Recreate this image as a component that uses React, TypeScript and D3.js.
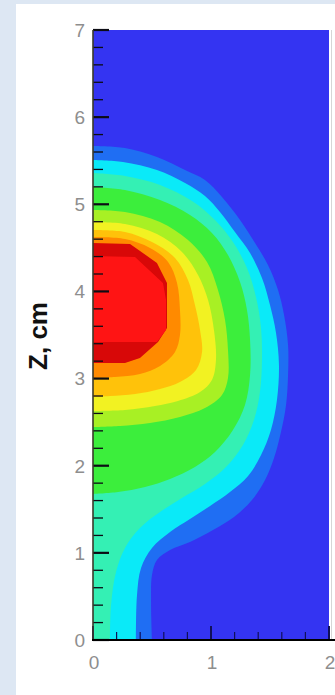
import React from 'react';
import * as d3 from 'd3';

type Pt = [number, number];

// axis ticks
const xTickValues = [0, 1, 2];
const yTickValues = [0, 1, 2, 3, 4, 5, 6, 7];
const xLabel = '';
const yAxisTitle = 'Z, cm';

// contour band outer edges, [r, z] in cm, outer -> inner
const midBlueEdge: Pt[] = [
  [0, 5.669], [0.271, 5.646], [0.542, 5.543], [0.78, 5.394], [0.949, 5.279], [1.093, 5.084],
  [1.246, 4.82], [1.373, 4.556], [1.483, 4.304], [1.568, 4.017], [1.619, 3.73], [1.653, 3.385],
  [1.653, 3.041], [1.636, 2.697], [1.593, 2.387], [1.534, 2.089], [1.458, 1.836], [1.347, 1.607],
  [1.195, 1.412], [1.017, 1.262], [0.822, 1.125], [0.653, 1.033], [0.542, 0.918], [0.5, 0.746],
  [0.492, 0.459], [0.5, 0],
];
const cyanEdge: Pt[] = [
  [0, 5.508], [0.254, 5.486], [0.542, 5.394], [0.78, 5.245], [0.949, 5.095], [1.076, 4.912],
  [1.203, 4.682], [1.331, 4.441], [1.432, 4.154], [1.5, 3.844], [1.551, 3.523], [1.576, 3.156],
  [1.559, 2.754], [1.508, 2.41], [1.424, 2.123], [1.314, 1.882], [1.161, 1.698], [0.992, 1.538],
  [0.822, 1.389], [0.653, 1.239], [0.5, 1.056], [0.407, 0.826], [0.373, 0.516], [0.364, 0],
];
const aquaEdge: Pt[] = [
  [0, 5.359], [0.271, 5.325], [0.568, 5.222], [0.839, 5.038], [1.034, 4.82], [1.186, 4.567],
  [1.305, 4.269], [1.381, 3.936], [1.424, 3.581], [1.432, 3.213], [1.415, 2.846], [1.364, 2.525],
  [1.271, 2.238], [1.127, 1.985], [0.949, 1.79], [0.754, 1.63], [0.568, 1.469], [0.398, 1.285],
  [0.271, 1.056], [0.195, 0.78], [0.153, 0.402], [0.144, 0],
];
const greenEdge: Pt[] = [
  [0, 5.199], [0.271, 5.164], [0.568, 5.049], [0.822, 4.877], [1.008, 4.671], [1.144, 4.418],
  [1.246, 4.108], [1.305, 3.787], [1.331, 3.443], [1.331, 3.041], [1.288, 2.697], [1.186, 2.41],
  [1.034, 2.157], [0.864, 1.985], [0.653, 1.848], [0.441, 1.756], [0.212, 1.698], [0, 1.676],
];
const yellowGreenEdge: Pt[] = [
  [0, 4.935], [0.271, 4.912], [0.568, 4.797], [0.805, 4.59], [0.966, 4.338], [1.059, 4.017],
  [1.119, 3.672], [1.144, 3.328], [1.144, 3.007], [1.093, 2.812], [0.949, 2.662], [0.737, 2.559],
  [0.483, 2.49], [0.229, 2.456], [0, 2.444],
];
const yellowEdge: Pt[] = [
  [0, 4.797], [0.271, 4.774], [0.542, 4.659], [0.754, 4.453], [0.89, 4.189], [0.975, 3.902],
  [1.025, 3.558], [1.042, 3.213], [1.008, 2.984], [0.907, 2.846], [0.72, 2.743], [0.525, 2.685],
  [0.271, 2.639], [0, 2.628],
];
const goldEdge: Pt[] = [
  [0, 4.705], [0.271, 4.682], [0.5, 4.567], [0.695, 4.384], [0.805, 4.131], [0.864, 3.844],
  [0.907, 3.558], [0.924, 3.305], [0.873, 3.099], [0.737, 2.961], [0.568, 2.881], [0.356, 2.823],
  [0.144, 2.8], [0, 2.789],
];
const orangeEdge: Pt[] = [
  [0, 4.625], [0.271, 4.602], [0.483, 4.499], [0.636, 4.338], [0.712, 4.097], [0.737, 3.787],
  [0.737, 3.5], [0.695, 3.305], [0.568, 3.144], [0.398, 3.053], [0.186, 3.018], [0, 3.007],
];
const darkRedEdge: Pt[] = [
  [0, 4.556], [0.314, 4.545], [0.542, 4.327], [0.627, 4.097], [0.627, 3.581], [0.551, 3.42],
  [0.398, 3.236], [0.271, 3.179], [0, 3.179],
];
const redEdge: Pt[] = [
  [0, 4.407], [0.356, 4.395], [0.593, 4.097], [0.619, 3.902], [0.619, 3.558], [0.542, 3.42],
  [0, 3.42],
];

const bandEdges: Pt[][] = [
  midBlueEdge, cyanEdge, aquaEdge, greenEdge, yellowGreenEdge, yellowEdge,
  goldEdge, orangeEdge, darkRedEdge, redEdge,
];
const backgroundColor = '#3434f2';
const bandColors = [
  '#1f6ef3', '#0aeaf8', '#34f0b4', '#3cee3c', '#a8f024', '#f2f222',
  '#ffc20a', '#ff8a00', '#d80808', '#ff1414',
];
const bandSmooth = [true, true, true, true, true, true, true, true, false, false];

export default function App() {
  const W = 335;
  const H = 695;
  const x = d3.scaleLinear().domain([0, 2]).range([93, 329]);
  const y = d3.scaleLinear().domain([0, 7]).range([640, 30]);

  const bandPath = (pts: Pt[], smooth: boolean) => {
    const line = d3
      .line<Pt>()
      .x((d) => x(d[0]))
      .y((d) => y(d[1]))
      .curve(smooth ? d3.curveCatmullRom.alpha(0.5) : d3.curveLinear);
    const first = pts[0];
    const last = pts[pts.length - 1];
    return (
      line(pts) +
      `L${x(last[0])},${y(-0.5)}L${x(-0.5)},${y(-0.5)}L${x(-0.5)},${y(first[1])}Z`
    );
  };

  const yMinor = d3.range(0, 7.0001, 0.2);
  const xMinor = d3.range(0, 2.0001, 0.2);
  const isMajor = (v: number) => Math.abs(v - Math.round(v)) < 1e-6;

  const [x0, x1] = x.range();
  const [y0, y1] = y.range();

  return (
    <svg
      width={W}
      height={H}
      style={{ position: 'absolute', left: 0, top: 0, display: 'block' }}
      fontFamily="'Liberation Sans', Arial, sans-serif"
    >
      <rect x={0} y={0} width={W} height={H} fill="#dde7f3" />
      <rect x={16} y={4} width={W - 16} height={H - 4} fill="#ffffff" />
      <defs>
        <clipPath id="plotClip">
          <rect x={x0} y={y1} width={x1 - x0} height={y0 - y1} />
        </clipPath>
      </defs>
      <g clipPath="url(#plotClip)">
        <rect x={x0} y={y1} width={x1 - x0} height={y0 - y1} fill={backgroundColor} />
        {bandEdges.map((pts, i) => (
          <path key={i} d={bandPath(pts, bandSmooth[i])} fill={bandColors[i]} />
        ))}
      </g>
      {/* right frame */}
      <line x1={x1 + 2.5} x2={x1 + 2.5} y1={y1} y2={y0} stroke="#d6d6d6" strokeWidth={1} />
      {/* y ticks (inward) */}
      {yMinor.map((v, i) => {
        const major = isMajor(v);
        return (
          <line
            key={'yt' + i}
            x1={x0}
            x2={x0 + (major ? 16 : 10)}
            y1={y(v)}
            y2={y(v)}
            stroke="#0c0c14"
            strokeWidth={major ? 2.2 : 1.3}
          />
        );
      })}
      {/* x ticks (inward) */}
      {xMinor.map((v, i) => {
        const major = isMajor(v);
        return (
          <line
            key={'xt' + i}
            x1={x(v)}
            x2={x(v)}
            y1={y0}
            y2={y0 - (major ? 14 : 8)}
            stroke="#10105a"
            strokeWidth={major ? 2 : 1.2}
          />
        );
      })}
      {/* axis lines */}
      <line x1={x0} x2={x0} y1={y1} y2={y0} stroke="#3a3a2a" strokeWidth={1.6} />
      <line x1={x0 - 1} x2={W} y1={y0} y2={y0} stroke="#000" strokeWidth={2} />
      {/* y tick labels */}
      {yTickValues.map((v) => (
        <text
          key={'yl' + v}
          x={85}
          y={y(v)}
          dy="0.36em"
          textAnchor="end"
          fontSize={19}
          fill="#8e8e8e"
        >
          {v}
        </text>
      ))}
      {/* x tick labels */}
      {xTickValues.map((v) => (
        <text
          key={'xl' + v}
          x={x(v) + 1}
          y={669}
          textAnchor="middle"
          fontSize={19}
          fill="#8e8e8e"
        >
          {v}
        </text>
      ))}
      {xLabel ? null : null}
      <text
        transform={`translate(47,336) rotate(-90)`}
        textAnchor="middle"
        fontSize={26}
        fontWeight="bold"
        fill="#111"
      >
        {yAxisTitle}
      </text>
    </svg>
  );
}
